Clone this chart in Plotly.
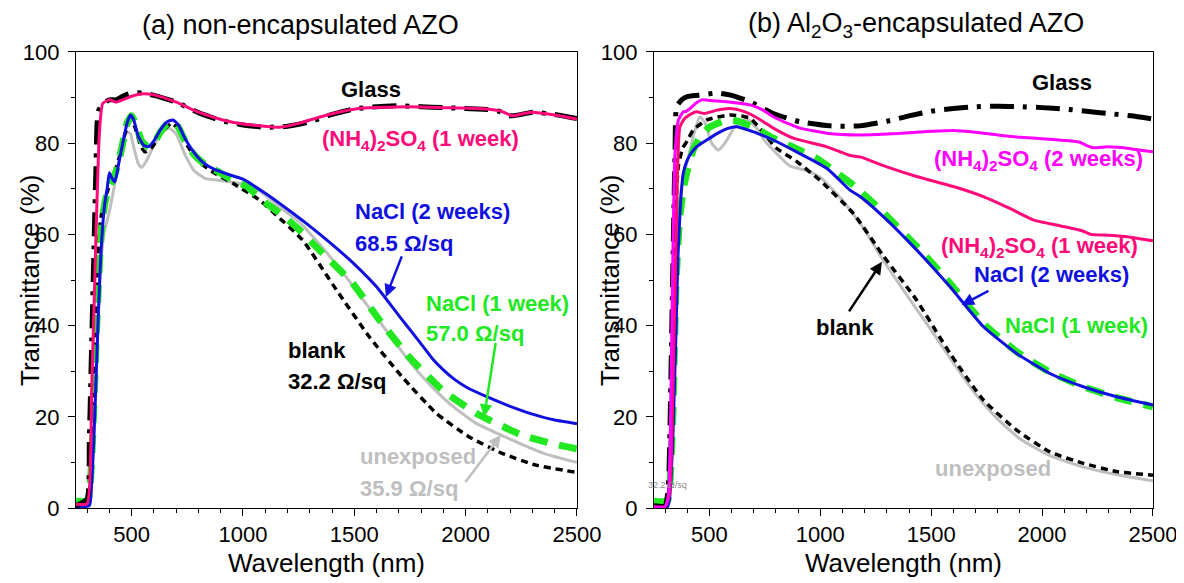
import plotly.graph_objects as go

# ---------------- data: panel (a) non-encapsulated ----------------
a_glass_wl = [250, 300, 310, 320, 330, 340, 350, 375, 400, 430, 460, 500, 550, 600, 700, 800, 900, 1000, 1100, 1200, 1300, 1400, 1500, 1600, 1700, 1800, 1900, 2000, 2100, 2150, 2200, 2250, 2300, 2400, 2500]
a_glass_T = [0.5, 2, 15, 35, 55, 75, 87, 88.8, 89.5, 89.5, 90.3, 91, 91, 90.5, 89, 86.7, 85, 84, 83.5, 83.7, 84.7, 86.3, 87.5, 88, 88.2, 88, 87.8, 87.6, 87.4, 87, 86, 86.3, 86.8, 86.3, 85.4]

a_nh4_1w_wl = [250, 300, 320, 340, 355, 370, 400, 430, 450, 500, 540, 600, 700, 800, 909, 1000, 1164, 1254, 1350, 1450, 1537, 1650, 1747, 1900, 2092, 2160, 2209, 2260, 2298, 2400, 2500]
a_nh4_1w_T = [0.8, 1, 25, 60, 82, 88.7, 89.5, 89, 89.3, 90.3, 90.8, 90.6, 89, 86.8, 85.1, 84.2, 83.5, 84.4, 85.8, 87, 87.7, 87.9, 88, 87.8, 87.5, 87, 86, 86.5, 86.8, 86.2, 85.3]

a_blank_wl = [250, 300, 310, 320, 330, 340, 350, 360, 375, 395, 420, 445, 470, 495, 515, 540, 560, 590, 630, 680, 710, 750, 800, 870, 955, 1075, 1150, 1267, 1420, 1568, 1716, 1868, 2016, 2164, 2316, 2500]
a_blank_T = [0.5, 0.5, 2, 10, 28, 45, 57, 63, 67, 70, 73, 77, 82, 85, 83.5, 79.5, 78.1, 79, 82, 84.4, 83, 79.5, 76, 73.5, 71.2, 67.5, 64.2, 58.8, 47.8, 37.5, 28.7, 20.8, 15.6, 12, 9.4, 7.8]

a_nacl_1w_wl = [250, 300, 310, 320, 330, 340, 350, 360, 370, 385, 400, 420, 440, 460, 480, 500, 520, 545, 575, 600, 630, 660, 686, 710, 740, 780, 830, 880, 950, 1015, 1100, 1164, 1240, 1357, 1492, 1613, 1747, 1895, 2047, 2253, 2400, 2500]
a_nacl_1w_T = [1.5, 1.5, 3, 10, 22, 36, 48, 58, 64, 68, 70.5, 72.5, 75.5, 80, 84.5, 86, 84, 80.5, 79.2, 80, 82.5, 84.3, 84.7, 83.5, 80.5, 77.5, 75.3, 74, 72, 70.6, 67, 64.7, 61.6, 55.9, 49.3, 41.2, 33.1, 25.9, 20.8, 16, 14, 13]

a_nacl_2w_wl = [250, 310, 320, 330, 340, 350, 360, 370, 380, 390, 400, 410, 425, 440, 460, 480, 495, 510, 530, 555, 575, 600, 630, 660, 686, 710, 740, 780, 820, 870, 925, 1000, 1100, 1200, 1300, 1400, 1500, 1600, 1700, 1800, 1850, 1900, 1950, 2000, 2100, 2200, 2300, 2400, 2500]
a_nacl_2w_T = [0.3, 0.5, 5, 15, 28, 42, 54, 62, 67, 70, 73.5, 72.5, 71.5, 75, 80, 84.5, 86.2, 85, 81.5, 79.5, 79.2, 80.5, 83, 84.7, 85.1, 84, 81, 78, 75.8, 74.3, 73.3, 72.1, 69, 65.5, 61.8, 57.8, 53.5, 48.5, 42.2, 36, 32.8, 30.3, 28.2, 26.6, 24.3, 22.3, 20.6, 19.3, 18.5]

a_unexp_wl = [250, 300, 315, 330, 345, 360, 375, 390, 400, 420, 445, 465, 480, 495, 510, 530, 545, 565, 600, 640, 670, 700, 740, 780, 830, 900, 1000, 1075, 1164, 1250, 1350, 1450, 1550, 1650, 1750, 1850, 1950, 2050, 2150, 2250, 2350, 2500]
a_unexp_T = [1, 1, 3, 15, 35, 52, 60, 63, 65, 70, 77, 81, 82.5, 82, 79, 75.5, 74.7, 76, 79.5, 82.5, 83.3, 82, 77.5, 74, 72.3, 71.8, 71, 69.5, 66, 62.8, 57.5, 51.5, 45, 38.5, 32, 26.5, 22, 18.5, 16.2, 14, 12, 10]

# ---------------- data: panel (b) Al2O3-encapsulated ----------------
b_glass_wl = [250, 300, 315, 325, 337, 345, 352, 375, 400, 450, 533, 600, 683, 788, 908, 1043, 1179, 1300, 1400, 1500, 1600, 1700, 1800, 1900, 2000, 2100, 2200, 2300, 2400, 2500]
b_glass_T = [0.5, 0.5, 5, 25, 58, 78, 88, 89.5, 90.2, 90.5, 91, 90.5, 89.1, 86.5, 84.7, 83.8, 83.8, 84.8, 86, 87, 87.6, 88, 88.1, 88, 87.8, 87.5, 87, 86.5, 86, 85.3]

b_nh4_2w_wl = [250, 300, 315, 325, 335, 345, 360, 382, 395, 410, 440, 465, 520, 578, 683, 740, 788, 850, 908, 1029, 1179, 1300, 1400, 1500, 1600, 1700, 1800, 1900, 2000, 2100, 2170, 2200, 2230, 2300, 2400, 2500]
b_nh4_2w_T = [0.3, 0.3, 3, 20, 55, 78, 85, 86.9, 87, 87.5, 88.8, 89.5, 89.3, 89.1, 88.4, 87.3, 85.8, 84.4, 83.3, 82.2, 81.8, 82, 82.3, 82.6, 82.8, 82.4, 81.8, 81.3, 81, 80.6, 80.2, 79.5, 79, 79.2, 78.8, 78.1]

b_nh4_1w_wl = [250, 300, 320, 335, 350, 367, 390, 420, 442, 478, 530, 593, 640, 683, 740, 788, 878, 1029, 1134, 1179, 1300, 1434, 1600, 1735, 1850, 1960, 2080, 2180, 2220, 2300, 2400, 2500]
b_nh4_1w_T = [0.3, 0.3, 3, 25, 60, 83.6, 85.5, 86.5, 86.9, 86.5, 87.2, 87.6, 87.2, 86.4, 84.8, 83.3, 81.1, 79.2, 77.3, 77, 74.8, 72.7, 70.5, 68.3, 65.8, 63.2, 61.9, 60.8, 60, 59.8, 59.4, 58.6]

b_blank_wl = [250, 300, 315, 325, 335, 345, 360, 380, 400, 427, 488, 593, 683, 740, 800, 893, 998, 1149, 1284, 1434, 1585, 1735, 1885, 2035, 2186, 2336, 2500]
b_blank_T = [0.3, 0.3, 3, 15, 40, 62, 75, 79, 80.5, 82.9, 85.1, 86.2, 85.5, 82.5, 79, 76, 71.9, 64.6, 55.3, 45.6, 33.9, 23.7, 17.1, 12.3, 9.8, 8, 7.2]

b_nacl_1w_wl = [250, 310, 320, 335, 350, 365, 382, 400, 427, 460, 500, 578, 623, 700, 788, 883, 983, 1080, 1149, 1284, 1434, 1585, 1735, 1885, 2035, 2186, 2336, 2500]
b_nacl_1w_T = [1.5, 1.5, 4, 20, 50, 63, 69.8, 74, 78.5, 81.5, 83.5, 85.1, 84.9, 83.5, 81.1, 79, 76.7, 73.3, 70.8, 64.8, 57.4, 49.3, 40.5, 34.3, 29.8, 26.6, 24.2, 22.2]

b_nacl_2w_wl = [250, 310, 320, 335, 350, 358, 370, 382, 400, 420, 442, 488, 530, 580, 623, 680, 740, 788, 893, 1029, 1134, 1179, 1284, 1434, 1585, 1735, 1885, 2035, 2186, 2336, 2500]
b_nacl_2w_T = [0.2, 0.2, 2, 15, 40, 55, 67, 73.4, 76.3, 78, 79.2, 80.7, 82, 83.2, 83.6, 82.8, 81.7, 80.7, 78.1, 74.5, 69.7, 68.3, 63.9, 56.6, 48.5, 39.8, 33.9, 29.5, 26.6, 24.4, 22.6]

b_unexp_wl = [250, 300, 318, 330, 345, 360, 380, 400, 430, 457, 480, 510, 540, 570, 620, 668, 710, 750, 788, 863, 938, 1000, 1100, 1200, 1284, 1400, 1500, 1585, 1700, 1800, 1900, 2035, 2200, 2350, 2500]
b_unexp_T = [0.5, 0.5, 3, 20, 50, 65, 72, 76, 82, 85.8, 84.5, 80, 78.5, 80, 84, 85.3, 83.5, 80.5, 78.5, 75, 74, 72.5, 67.5, 61, 54.3, 46, 39, 32.9, 25, 19.5, 15.2, 11.5, 8.8, 7.2, 6]

# ---------------- styles ----------------
FONT = "Liberation Sans, Arial, sans-serif"
C_GLASS = "#000000"
C_NH4_1 = "#FF0A78"
C_NH4_2 = "#FF00FF"
C_BLANK = "#000000"
C_NACL1 = "#22E822"
C_NACL2 = "#1010E0"
C_UNEXP = "#BFBFBF"

S_GLASS = dict(color=C_GLASS, width=5, dash="24px,9px,4px,9px")
S_BLANK = dict(color=C_BLANK, width=3.5, dash="7px,5px")
S_NACL1 = dict(color=C_NACL1, width=7, dash="18px,12px")
S_NACL2 = dict(color=C_NACL2, width=3)
S_UNEXP = dict(color=C_UNEXP, width=3)
S_NH4_1 = dict(color=C_NH4_1, width=3)
S_NH4_2 = dict(color=C_NH4_2, width=3)

fig = go.Figure()

def add(wl, T, style, xa, ya):
    st = dict(style, shape="spline", smoothing=0.5)
    fig.add_trace(go.Scatter(x=wl, y=T, mode="lines", line=st,
                             xaxis=xa, yaxis=ya, showlegend=False, hoverinfo="skip"))

# panel (a)
add(a_unexp_wl, a_unexp_T, S_UNEXP, "x", "y")
add(a_blank_wl, a_blank_T, S_BLANK, "x", "y")
add(a_nacl_1w_wl, a_nacl_1w_T, S_NACL1, "x", "y")
add(a_nacl_2w_wl, a_nacl_2w_T, S_NACL2, "x", "y")
add(a_glass_wl, a_glass_T, S_GLASS, "x", "y")
add(a_nh4_1w_wl, a_nh4_1w_T, S_NH4_1, "x", "y")

# panel (b)
add(b_unexp_wl, b_unexp_T, S_UNEXP, "x2", "y2")
add(b_blank_wl, b_blank_T, S_BLANK, "x2", "y2")
add(b_nacl_1w_wl, b_nacl_1w_T, S_NACL1, "x2", "y2")
add(b_nacl_2w_wl, b_nacl_2w_T, S_NACL2, "x2", "y2")
add(b_glass_wl, b_glass_T, S_GLASS, "x2", "y2")
add(b_nh4_1w_wl, b_nh4_1w_T, S_NH4_1, "x2", "y2")
add(b_nh4_2w_wl, b_nh4_2w_T, S_NH4_2, "x2", "y2")

def xax(domain, anchor):
    return dict(domain=domain, anchor=anchor, range=[250, 2500], tick0=0, dtick=500,
                automargin=False,
                ticks="outside", ticklen=7, tickwidth=1, tickcolor="black",
                minor=dict(dtick=100, ticks="outside", ticklen=4, tickcolor="black"),
                showline=True, linecolor="black", linewidth=1, mirror=True,
                showgrid=False, zeroline=False,
                tickfont=dict(family=FONT, size=22, color="black"))

def yax(domain, anchor):
    return dict(domain=domain, anchor=anchor, range=[0, 100], tick0=0, dtick=20,
                automargin=False, ticklabelstandoff=4,
                ticks="outside", ticklen=7, tickwidth=1, tickcolor="black",
                minor=dict(dtick=10, ticks="outside", ticklen=4, tickcolor="black"),
                showline=True, linecolor="black", linewidth=1, mirror=True,
                showgrid=False, zeroline=False,
                tickfont=dict(family=FONT, size=22, color="black"))

# the page body has an 8px margin, so the figure is 1176x575 and offset by 8px
YD = [0.1304, 0.9235]
fig.update_layout(
    width=1176, height=575,
    margin=dict(l=0, r=0, t=0, b=0, autoexpand=False),
    paper_bgcolor="white", plot_bgcolor="white",
    xaxis=xax([0.0578, 0.4838], "y"),
    yaxis=yax(YD, "x"),
    xaxis2=xax([0.5493, 0.9736], "y2"),
    yaxis2=yax(YD, "x2"),
)

ann = []
def label(text, x, y, color, xr, yr, size=22, xanchor="center", bold=True):
    t = f"<b>{text}</b>" if bold else text
    ann.append(dict(text=t, x=x, y=y, xref=xr, yref=yr, xanchor=xanchor, yanchor="middle",
                    showarrow=False, font=dict(family=FONT, size=size, color=color)))

def arrow(x0, y0, x1, y1, color, xr, yr):
    ann.append(dict(text="", x=x1, y=y1, ax=x0, ay=y0, xref=xr, yref=yr, axref=xr, ayref=yr,
                    showarrow=True, arrowhead=2, arrowsize=1, arrowwidth=2.5, arrowcolor=color))

def ptext(text, x, y, size, angle=0):
    ann.append(dict(text=text, x=x, y=y, xref="paper", yref="paper", showarrow=False,
                    xanchor="center", yanchor="middle", textangle=angle, borderpad=0,
                    font=dict(family=FONT, size=size, color="black")))

SUB4 = "(NH<sub>4</sub>)<sub>2</sub>SO<sub>4</sub>"

# panel titles and axis titles
ptext("(a) non-encapsulated AZO", 0.2491, 0.9704, 27)
ptext("(b) Al<sub>2</sub>O<sub>3</sub>-encapsulated AZO", 0.7721, 0.9704, 27)
ptext("Wavelength (nm)", 0.2708, 0.0348, 26)
ptext("Wavelength (nm)", 0.7615, 0.0348, 26)
ptext("Transmittance (%)", 0.0187, 0.527, 26, -90)
ptext("Transmittance (%)", 0.5119, 0.527, 26, -90)

# panel (a) labels
label("Glass", 1575, 91.7, "black", "x", "y")
label(SUB4 + " (1 week)", 1799, 80.7, C_NH4_1, "x", "y")
label("NaCl (2 weeks)", 1493, 65.0, C_NACL2, "x", "y", xanchor="left")
label("68.5 Ω/sq", 1493, 58.1, C_NACL2, "x", "y", xanchor="left")
label("NaCl (1 week)", 1814, 44.9, C_NACL1, "x", "y", xanchor="left")
label("57.0 Ω/sq", 1814, 38.3, C_NACL1, "x", "y", xanchor="left")
label("blank", 1194, 34.6, "black", "x", "y", xanchor="left")
label("32.2 Ω/sq", 1194, 27.7, "black", "x", "y", xanchor="left")
label("unexposed", 1515, 11.3, C_UNEXP, "x", "y", xanchor="left")
label("35.9 Ω/sq", 1515, 4.3, C_UNEXP, "x", "y", xanchor="left")
arrow(1716, 55.5, 1642, 46.3, C_NACL2, "x", "y")
arrow(2136, 36.5, 2083, 20.0, C_NACL1, "x", "y")
arrow(1994, 5.4, 2158, 16.0, C_UNEXP, "x", "y")

# panel (b) labels
label("Glass", 2089, 93.2, "black", "x2", "y2")
label(SUB4 + " (2 weeks)", 1983, 76.3, C_NH4_2, "x2", "y2")
label(SUB4 + " (1 week)", 1990, 57.3, C_NH4_1, "x2", "y2")
label("NaCl (2 weeks)", 2043, 51.1, C_NACL2, "x2", "y2")
label("NaCl (1 week)", 2156, 40.1, C_NACL1, "x2", "y2")
label("blank", 1110, 39.6, "black", "x2", "y2")
label("unexposed", 1780, 8.7, C_UNEXP, "x2", "y2")
label("32.2 Ω/sq", 309, 5.0, "#8C8C8C", "x2", "y2", size=9, bold=False)
arrow(1765, 47.8, 1637, 44.5, C_NACL2, "x2", "y2")
arrow(1125, 42.8, 1278, 54.0, "black", "x2", "y2")

fig.update_layout(annotations=ann)
fig.write_html("out.html")
